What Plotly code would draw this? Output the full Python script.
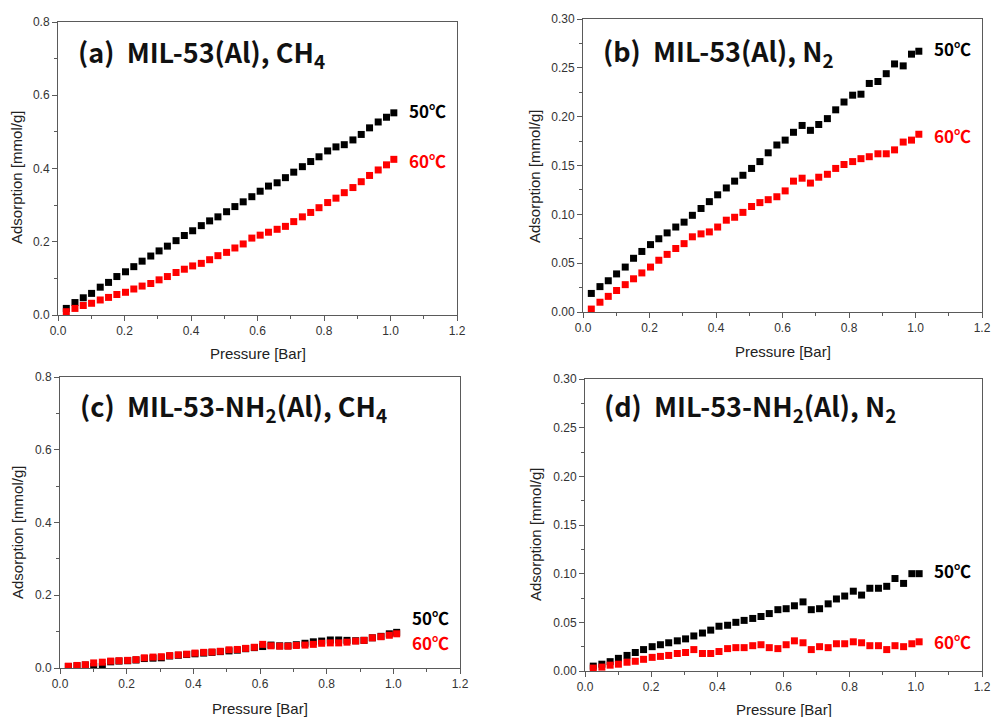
import plotly.graph_objects as go

W, H = 992, 717

pressure = [0.025, 0.051, 0.076, 0.101, 0.127, 0.152, 0.177, 0.203, 0.228, 0.253,
            0.279, 0.304, 0.329, 0.355, 0.380, 0.405, 0.431, 0.456, 0.481, 0.507,
            0.532, 0.557, 0.583, 0.608, 0.633, 0.659, 0.684, 0.709, 0.735, 0.760,
            0.785, 0.811, 0.836, 0.861, 0.887, 0.912, 0.937, 0.963, 0.988, 1.010]

a_50 = [0.018, 0.034, 0.047, 0.059, 0.076, 0.089, 0.105, 0.118, 0.132, 0.147,
        0.161, 0.175, 0.188, 0.203, 0.217, 0.230, 0.244, 0.257, 0.268, 0.282,
        0.296, 0.309, 0.323, 0.338, 0.352, 0.361, 0.375, 0.390, 0.405, 0.419,
        0.432, 0.448, 0.459, 0.465, 0.478, 0.493, 0.511, 0.527, 0.540, 0.552]
a_60 = [0.009, 0.018, 0.026, 0.032, 0.041, 0.048, 0.056, 0.062, 0.071, 0.079,
        0.086, 0.096, 0.105, 0.116, 0.125, 0.134, 0.141, 0.151, 0.162, 0.171,
        0.183, 0.194, 0.210, 0.218, 0.226, 0.234, 0.242, 0.255, 0.268, 0.280,
        0.293, 0.307, 0.319, 0.334, 0.348, 0.364, 0.381, 0.396, 0.410, 0.425]

b_50 = [0.019, 0.026, 0.032, 0.039, 0.046, 0.055, 0.062, 0.069, 0.075, 0.081,
        0.087, 0.092, 0.099, 0.106, 0.113, 0.120, 0.127, 0.134, 0.140, 0.147,
        0.154, 0.163, 0.171, 0.176, 0.184, 0.191, 0.186, 0.192, 0.198, 0.207,
        0.215, 0.222, 0.223, 0.234, 0.236, 0.244, 0.254, 0.252, 0.264, 0.267]
b_60 = [0.003, 0.010, 0.016, 0.022, 0.028, 0.034, 0.040, 0.046, 0.053, 0.059,
        0.065, 0.070, 0.077, 0.080, 0.082, 0.087, 0.094, 0.097, 0.102, 0.108,
        0.112, 0.115, 0.118, 0.124, 0.134, 0.137, 0.132, 0.138, 0.141, 0.147,
        0.151, 0.154, 0.157, 0.159, 0.162, 0.162, 0.166, 0.174, 0.176, 0.182]

c_50 = [0.004, 0.006, 0.008, 0.004, 0.004, 0.017, 0.019, 0.020, 0.022, 0.026,
        0.027, 0.028, 0.033, 0.035, 0.037, 0.039, 0.041, 0.043, 0.045, 0.047,
        0.049, 0.053, 0.056, 0.059, 0.063, 0.061, 0.061, 0.064, 0.068, 0.072,
        0.074, 0.077, 0.077, 0.076, 0.075, 0.076, 0.083, 0.087, 0.094, 0.098]
c_60 = [0.005, 0.007, 0.009, 0.014, 0.016, 0.019, 0.020, 0.021, 0.023, 0.028,
        0.030, 0.031, 0.034, 0.036, 0.038, 0.041, 0.043, 0.044, 0.046, 0.050,
        0.051, 0.054, 0.057, 0.065, 0.061, 0.060, 0.060, 0.062, 0.063, 0.065,
        0.068, 0.069, 0.069, 0.071, 0.074, 0.076, 0.083, 0.086, 0.090, 0.094]

d_50 = [0.005, 0.007, 0.0096, 0.013, 0.016, 0.019, 0.022, 0.025, 0.027, 0.029,
        0.031, 0.033, 0.036, 0.039, 0.042, 0.046, 0.047, 0.050, 0.052, 0.054,
        0.056, 0.059, 0.063, 0.064, 0.067, 0.071, 0.063, 0.064, 0.069, 0.074,
        0.077, 0.082, 0.078, 0.085, 0.085, 0.087, 0.095, 0.090, 0.100, 0.100]
d_60 = [0.003, 0.004, 0.006, 0.007, 0.009, 0.010, 0.012, 0.014, 0.015, 0.016,
        0.018, 0.019, 0.022, 0.018, 0.018, 0.020, 0.023, 0.024, 0.024, 0.026,
        0.027, 0.024, 0.023, 0.027, 0.031, 0.029, 0.022, 0.025, 0.024, 0.028,
        0.028, 0.030, 0.029, 0.026, 0.026, 0.022, 0.026, 0.025, 0.028, 0.030]

x_ticks = [0.0, 0.2, 0.4, 0.6, 0.8, 1.0, 1.2]
x_tick_text = ["0.0", "0.2", "0.4", "0.6", "0.8", "1.0", "1.2"]

panel_titles = ["(a)  MIL-53(Al), CH<sub>4</sub>", "(b)  MIL-53(Al), N<sub>2</sub>",
                "(c)  MIL-53-NH<sub>2</sub>(Al), CH<sub>4</sub>", "(d)  MIL-53-NH<sub>2</sub>(Al), N<sub>2</sub>"]
series_names = ["50℃", "60℃"]
series_colors = ["#000000", "#FF0000"]

panels = [
    dict(s50=a_50, s60=a_60, ymax=0.8, ydt=0.2, yminor=0.1, yfmt=".1f",
         box=(58, 457, 22, 315), title_xy=(76, 53), ytitle_xy=(16, 178), xtitle_y=353,
         lab50=0.557, lab60=0.423),
    dict(s50=b_50, s60=b_60, ymax=0.30, ydt=0.05, yminor=0.025, yfmt=".2f",
         box=(583, 982, 19, 312), title_xy=(601, 52), ytitle_xy=(534, 177), xtitle_y=351,
         lab50=0.270, lab60=0.181),
    dict(s50=c_50, s60=c_60, ymax=0.8, ydt=0.2, yminor=0.1, yfmt=".1f",
         box=(60, 460, 377, 668), title_xy=(78, 407), ytitle_xy=(17, 533), xtitle_y=708,
         lab50=0.140, lab60=0.069),
    dict(s50=d_50, s60=d_60, ymax=0.30, ydt=0.05, yminor=0.025, yfmt=".2f",
         box=(585, 982, 379, 671), title_xy=(602, 407), ytitle_xy=(535, 535), xtitle_y=709,
         lab50=0.103, lab60=0.030),
]

fig = go.Figure()
annotations = []
axis_color = "#5a5a5a"
tick_font = dict(family="Liberation Sans, Arial, sans-serif", size=12, color="#333333")
title_font = dict(family="Liberation Sans, Arial, sans-serif", size=15, color="#222222")
cjk = "Noto Sans CJK KR, Noto Sans, sans-serif"

for i, p in enumerate(panels):
    n = "" if i == 0 else str(i + 1)
    xa, ya = "x" + n, "y" + n
    x0, x1, y0, y1 = p["box"]
    for vals, name, col in zip([p["s50"], p["s60"]], series_names, series_colors):
        fig.add_trace(go.Scatter(
            x=pressure, y=vals, mode="markers", name=name, showlegend=False,
            marker=dict(symbol="square", size=7, color=col, line=dict(width=0)),
            xaxis=xa, yaxis=ya))
    fig.layout["xaxis" + n] = dict(
        domain=[x0 / W, x1 / W], range=[0, 1.2], anchor=ya, automargin=False,
        ticklabeloverflow="allow",
        tickvals=x_ticks, ticktext=x_tick_text, ticks="outside", ticklen=5, tickwidth=1,
        tickcolor=axis_color, showline=True, linecolor=axis_color, linewidth=1, mirror=True,
        showgrid=False, zeroline=False, tickfont=tick_font,
        minor=dict(dtick=0.1, tick0=0, ticks="outside", ticklen=3, tickcolor=axis_color, showgrid=False))
    fig.layout["yaxis" + n] = dict(
        domain=[1 - y1 / H, 1 - y0 / H], range=[0, p["ymax"]], anchor=xa, automargin=False,
        ticklabeloverflow="allow",
        dtick=p["ydt"], tick0=0, tickformat=p["yfmt"], ticks="outside", ticklen=5, tickwidth=1,
        tickcolor=axis_color, showline=True, linecolor=axis_color, linewidth=1, mirror=True,
        showgrid=False, zeroline=False, tickfont=tick_font,
        minor=dict(dtick=p["yminor"], tick0=0, ticks="outside", ticklen=3, tickcolor=axis_color, showgrid=False))
    tx, ty = p["title_xy"]
    annotations.append(dict(
        text="<b>" + panel_titles[i] + "</b>", x=tx / W, y=1 - ty / H, xref="paper", yref="paper",
        xanchor="left", yanchor="middle", showarrow=False,
        font=dict(family=cjk, size=27, color="#111111")))
    yx, yy = p["ytitle_xy"]
    annotations.append(dict(
        text="Adsorption [mmol/g]", x=yx / W, y=1 - yy / H, xref="paper", yref="paper",
        xanchor="center", yanchor="middle", textangle=-90, showarrow=False, font=title_font))
    annotations.append(dict(
        text="Pressure [Bar]", x=(x0 + x1) / 2 / W, y=1 - p["xtitle_y"] / H, xref="paper", yref="paper",
        xanchor="center", yanchor="middle", showarrow=False, font=title_font))
    for lab_y, name, col in zip([p["lab50"], p["lab60"]], series_names, series_colors):
        annotations.append(dict(
            text="<b>" + name + "</b>", x=1.05, y=lab_y, xref=xa, yref=ya,
            xanchor="left", yanchor="middle", showarrow=False,
            font=dict(family=cjk, size=17, color=col)))

fig.update_layout(
    width=W, height=H, margin=dict(l=0, r=0, t=0, b=0, autoexpand=False),
    paper_bgcolor="white", plot_bgcolor="white", annotations=annotations, showlegend=False)

fig.write_html("out.html", config={"displayModeBar": False},
               post_script="document.body.style.margin='0';document.body.style.overflow='hidden';")
